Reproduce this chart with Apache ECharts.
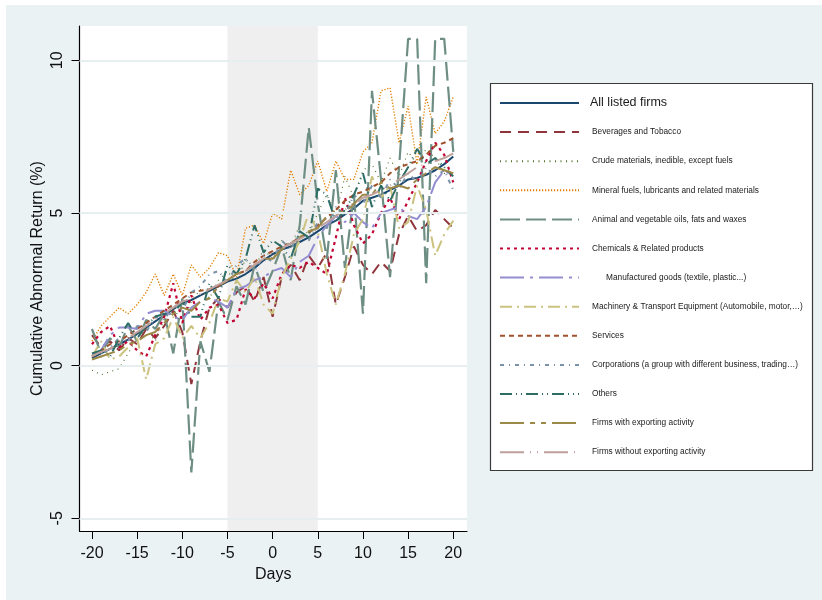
<!DOCTYPE html>
<html>
<head>
<meta charset="utf-8">
<script src="https://cdn.jsdelivr.net/npm/echarts@6/dist/echarts.min.js"></script>
<style>
  html, body { margin: 0; padding: 0; background: #fff; }
  #chart { width: 822px; height: 600px; }
</style>
</head>
<body>
<div id="chart"></div>
<script>
// event days
const days = [-20, -19, -18, -17, -16, -15, -14, -13, -12, -11, -10, -9, -8, -7, -6, -5, -4, -3, -2, -1,
  0, 1, 2, 3, 4, 5, 6, 7, 8, 9, 10, 11, 12, 13, 14, 15, 16, 17, 18, 19, 20];

// cumulative abnormal returns (%)
const allFirms = [0.25, 0.4, 0.55, 0.7, 0.85, 1.05, 1.25, 1.45, 1.65, 1.85, 2.05, 2.15, 2.3, 2.45, 2.6, 2.75, 2.85, 3.0, 3.2, 3.45,
  3.65, 3.8, 3.9, 4.05, 4.2, 4.4, 4.6, 4.75, 4.95, 5.15, 5.4, 5.5, 5.6, 5.75, 5.9, 6.1, 6.15, 6.25, 6.4, 6.6, 6.85];
const beverages = [1.0, 0.6, 0.8, 0.5, 0.9, 0.7, 1.2, 0.9, 1.3, 1.8, 1.1, -0.6, 0.8, 1.9, 2.2, 1.9, 2.4, 2.6, 2.1, 2.9,
  1.6, 2.9, 3.3, 2.8, 3.6, 3.2, 3.7, 2.0, 2.9, 3.9, 3.3, 3.0, 3.4, 3.1, 4.3, 4.9, 4.4, 4.6, 5.1, 4.8, 4.5];
const crude = [-0.15, -0.3, -0.2, -0.1, 0.4, 0.9, 1.2, 0.8, 1.5, 1.9, 1.4, 2.1, 2.5, 2.2, 2.8, 3.1, 2.7, 3.5, 3.2, 3.8,
  3.5, 4.1, 3.9, 4.6, 4.3, 5.0, 5.6, 4.9, 6.2, 5.5, 6.4, 6.6, 6.0, 6.8, 6.2, 7.0, 6.6, 7.1, 6.8, 6.3, 6.3];
const mineral = [0.8, 1.3, 1.6, 1.9, 1.7, 2.0, 2.4, 3.0, 2.3, 3.0, 2.3, 3.3, 2.9, 3.2, 3.7, 3.6, 2.9, 4.5, 4.6, 4.0,
  5.0, 4.8, 6.4, 5.6, 5.9, 6.7, 5.7, 6.7, 6.1, 6.1, 7.0, 7.3, 9.0, 9.1, 7.3, 8.5, 6.6, 8.8, 7.6, 8.0, 8.8];
const oils = [1.2, 0.4, 0.9, 0.6, 1.3, 0.8, 1.5, 1.2, 1.7, 0.4, 2.2, -3.5, 0.8, -0.2, 2.1, 1.5, 2.6, 2.0, 3.3, 2.4,
  3.1, 3.9, 2.8, 4.6, 7.8, 5.3, 3.5, 6.4, 3.2, 5.6, 1.7, 9.0, 6.1, 2.9, 6.5, 10.7, 10.7, 2.7, 10.7, 10.7, 7.0];
const chemicals = [0.7, 1.1, 1.3, 0.6, 0.8, 0.5, 0.3, 1.0, 1.6, 2.7, 1.4, 2.3, 1.5, 1.9, 2.0, 1.4, 1.5, 2.5, 2.2, 2.7,
  2.2, 3.0, 3.3, 3.2, 3.4, 3.2, 3.0, 4.2, 5.5, 4.6, 4.0, 4.3, 5.0, 5.5, 4.8, 5.4, 6.0, 6.7, 7.3, 6.9, 6.0];
const manufactured = [0.3, 0.5, 1.0, 1.25, 1.25, 1.2, 1.7, 1.8, 1.8, 1.6, 1.5, 1.9, 2.1, 2.2, 2.1, 1.9, 2.5, 2.6, 2.8, 2.9,
  3.1, 3.2, 2.9, 3.4, 3.6, 4.2, 4.6, 4.9, 4.7, 5.0, 4.7, 4.5, 5.0, 5.1, 5.2, 4.9, 4.8, 5.2, 6.0, 6.4, 6.2];
const machinery = [0.3, 0.8, 0.2, 0.3, 0.6, 0.9, -0.45, 0.7, 0.9, 1.6, 0.9, 1.3, 0.9, 1.4, 2.2, 2.1, 2.8, 2.4, 2.9, 2.0,
  1.7, 2.9, 3.5, 4.1, 5.0, 4.4, 3.0, 2.0, 3.0, 4.3, 4.8, 6.2, 5.5, 5.9, 4.5, 4.7, 5.9, 5.1, 3.6, 4.3, 4.75];
const services = [0.3, 0.5, 0.7, 0.8, 1.0, 1.2, 1.4, 1.6, 1.8, 2.0, 2.2, 2.4, 2.45, 2.5, 2.6, 2.8, 3.0, 3.1, 3.4, 3.6,
  3.75, 3.9, 4.0, 4.2, 4.35, 4.6, 4.85, 5.1, 5.4, 5.6, 5.7, 5.85, 6.0, 6.3, 6.5, 6.6, 6.7, 6.9, 7.2, 7.3, 7.45];
const corporations = [0.4, 0.3, 0.6, 0.9, 0.8, 1.3, 1.1, 1.6, 1.5, 2.0, 1.8, 2.4, 2.6, 3.0, 3.1, 2.7, 3.3, 3.5, 3.1, 3.6,
  3.4, 4.1, 3.8, 4.4, 4.1, 4.7, 4.5, 5.2, 4.9, 5.6, 5.3, 5.9, 5.5, 6.1, 5.8, 6.3, 6.0, 6.5, 6.2, 6.4, 5.75];
const others = [0.4, 0.5, 0.3, 0.9, 1.4, 0.9, 1.3, 1.6, 1.7, 1.7, 2.1, 1.6, 1.6, 2.7, 2.2, 3.3, 3.0, 3.5, 4.6, 3.7,
  4.1, 3.9, 3.5, 4.4, 4.2, 5.8, 5.6, 4.7, 5.1, 5.6, 6.3, 5.2, 5.9, 5.4, 6.0, 6.5, 7.1, 6.6, 6.8, 6.5, 6.2];
const exporters = [0.2, 0.3, 0.4, 0.5, 0.7, 0.8, 1.0, 1.1, 1.4, 1.7, 1.9, 1.8, 2.1, 2.2, 2.6, 2.8, 3.0, 3.1, 3.3, 3.5,
  3.5, 3.8, 4.0, 4.2, 4.4, 4.5, 4.9, 5.1, 5.0, 5.3, 5.6, 5.6, 6.0, 5.8, 5.9, 5.8, 6.1, 6.3, 6.5, 6.4, 6.3];
const nonExporters = [0.3, 0.45, 0.55, 0.75, 0.9, 1.1, 1.3, 1.5, 1.7, 1.9, 2.1, 2.2, 2.35, 2.5, 2.65, 2.8, 2.95, 3.1, 3.3, 3.5,
  3.7, 3.85, 4.0, 4.15, 4.3, 4.5, 4.7, 4.9, 5.1, 5.3, 5.5, 5.6, 5.75, 5.9, 6.1, 6.3, 6.5, 6.6, 6.7, 6.8, 6.95];

const seriesNames = [
  'All listed firms',
  'Beverages and Tobacco',
  'Crude materials, inedible, except fuels',
  'Mineral fuels, lubricants and related materials',
  'Animal and vegetable oils, fats and waxes',
  'Chemicals & Related products',
  'Manufactured goods (textile, plastic...)',
  'Machinery & Transport Equipment (Automobile, motor,…)',
  'Services',
  'Corporations (a group with different business, trading…)',
  'Others',
  'Firms with exporting activity',
  'Firms without exporting activity'
];
const seriesValues = [allFirms, beverages, crude, mineral, oils, chemicals, manufactured,
  machinery, services, corporations, others, exporters, nonExporters];

const xTicks = [-20, -15, -10, -5, 0, 5, 10, 15, 20];
const yTicks = [-5, 0, 5, 10];
const eventWindow = [-5, 5];

// stata s2color look: colour, dash pattern, width
const styles = [
  { color: '#1a476f', type: 'solid', width: 2 },
  { color: '#90353b', type: [11, 7], width: 2 },
  { color: '#55752f', type: [1, 4.5], width: 1.2 },
  { color: '#e37e00', type: [1.2, 1.8], width: 1.4 },
  { color: '#6e8e84', type: [20, 6], width: 2.2 },
  { color: '#c10534', type: [3, 4], width: 2.2 },
  { color: '#938dd2', type: [24, 6, 3, 6], width: 2 },
  { color: '#cac27e', type: [12, 5, 2, 5], width: 2 },
  { color: '#a0522d', type: [5, 4], width: 2 },
  { color: '#7b92a8', type: [4, 5, 1, 5], width: 2 },
  { color: '#2d6d66', type: [12, 4, 1, 4, 1, 4], width: 2 },
  { color: '#9c8847', type: [24, 6, 5, 6, 5, 6], width: 2 },
  { color: '#bfa19c', type: [24, 6, 1, 6, 1, 6], width: 2 }
];

const font = 'Liberation Sans, Arial, sans-serif';
const chart = echarts.init(document.getElementById('chart'));

const lineSeries = seriesNames.map((name, i) => ({
  name,
  type: 'line',
  data: days.map((d, j) => [d, seriesValues[i][j]]),
  symbol: 'none',
  z: 3,
  lineStyle: { color: styles[i].color, type: styles[i].type, width: styles[i].width },
  itemStyle: { color: styles[i].color },
  emphasis: { disabled: true }
}));

const legendData = seriesNames.map((name, i) => ({
  name,
  textStyle: i === 0
    ? { fontSize: 12.5, padding: [0, 0, 0, 6] }
    : { fontSize: 8.3, padding: [0, 0, 0, name.startsWith('Manufactured') ? 22 : 8] }
}));

chart.setOption({
  animation: false,
  backgroundColor: '#fff',
  textStyle: { fontFamily: font },
  graphic: [
    { type: 'rect', z: -100, shape: { x: 6, y: 5, width: 816, height: 595 }, style: { fill: '#eaf2f3' } },
    { type: 'rect', z: 1, shape: { x: 490.5, y: 83.5, width: 322, height: 387 },
      style: { fill: '#fff', stroke: '#3a3a3a', lineWidth: 1.2 } }
  ],
  grid: {
    left: 79.5, top: 26, right: 355, bottom: 69,
    show: true, backgroundColor: '#fff', borderWidth: 0
  },
  legend: {
    orient: 'vertical',
    left: 499, top: 95,
    itemWidth: 79, itemHeight: 16, itemGap: 13.1,
    padding: 0,
    selectedMode: false,
    itemStyle: { opacity: 0 },
    textStyle: { color: '#1a1a1a', fontFamily: font, lineHeight: 16 },
    data: legendData
  },
  xAxis: {
    type: 'value',
    min: -21.384, max: 21.52,
    name: 'Days', nameLocation: 'middle', nameGap: 30,
    nameTextStyle: { fontSize: 16, color: '#111' },
    axisLine: { show: true, onZero: false, lineStyle: { color: '#000', width: 1.2 } },
    axisTick: { show: true, length: 8, customValues: xTicks, lineStyle: { color: '#000' } },
    axisLabel: { customValues: xTicks, fontSize: 16, color: '#111', margin: 15 },
    splitLine: { show: false }
  },
  yAxis: {
    type: 'value',
    min: -5.416, max: 11.124,
    name: 'Cumulative Abnormal Return (%)', nameLocation: 'middle', nameGap: 34,
    nameTextStyle: { fontSize: 16, color: '#111' },
    axisLine: { show: true, onZero: false, lineStyle: { color: '#000', width: 1.2 } },
    axisTick: { show: true, length: 8, customValues: yTicks, lineStyle: { color: '#000' } },
    axisLabel: { customValues: yTicks, fontSize: 16, color: '#111', rotate: 90, margin: 14 },
    splitLine: { show: false }
  },
  series: [
    {
      name: 'gridlines', type: 'line', data: [], z: 1, silent: true,
      markLine: {
        silent: true, symbol: 'none', label: { show: false },
        lineStyle: { color: '#e6eef0', width: 2, type: 'solid' },
        data: yTicks.map(v => ({ yAxis: v }))
      }
    },
    {
      name: 'window', type: 'line', data: [], z: 2, silent: true,
      markArea: {
        silent: true, itemStyle: { color: '#efefef' },
        data: [[{ xAxis: eventWindow[0] }, { xAxis: eventWindow[1] }]]
      }
    },
    ...lineSeries
  ]
});
</script>
</body>
</html>
